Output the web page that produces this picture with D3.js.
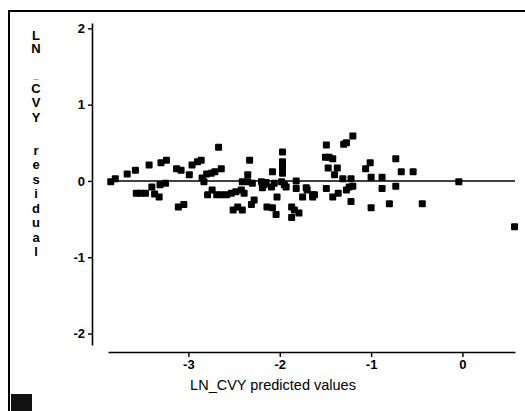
<!DOCTYPE html>
<html>
<head>
<meta charset="utf-8">
<script src="https://cdn.jsdelivr.net/npm/d3@7"></script>
<style>
  html, body { margin: 0; padding: 0; background: #fff; }
  svg { display: block; }
</style>
</head>
<body>
<svg id="chart"></svg>
<script>
// predicted values (x) and residuals (y)
const predicted = [
  -3.85, -3.80, -3.67, -3.58, -3.43, -3.30, -3.24, -3.57, -3.52, -3.47,
  -3.40, -3.37, -3.32, -3.31, -3.25, -3.13, -3.08, -3.11, -3.05, -2.99,
  -2.96, -2.90, -2.86, -2.85, -2.80, -2.75, -2.71, -2.64, -2.83, -2.67,
  -2.79, -2.74, -2.69, -2.64, -2.58, -2.53, -2.48, -2.42, -2.39, -2.51,
  -2.46, -2.41, -2.33, -2.35, -2.41, -2.35, -2.30, -2.31, -2.28, -2.20,
  -2.17, -2.19, -2.09, -2.08, -2.15, -2.06, -2.14, -2.08, -2.04, -1.97,
  -1.97, -1.97, -1.97, -2.03, -1.98, -1.95, -1.93, -1.87, -1.84, -1.79,
  -1.87, -1.82, -1.82, -1.75, -1.71, -1.70, -1.64, -1.62, -1.64, -1.49,
  -1.50, -1.46, -1.42, -1.47, -1.37, -1.40, -1.30, -1.27, -1.20, -1.31,
  -1.22, -1.49, -1.42, -1.36, -1.27, -1.24, -1.20, -1.22, -1.01, -1.06,
  -1.00, -0.88, -0.88, -1.00, -0.80, -0.73, -0.67, -0.73, -0.54, -0.44,
  -0.04, 0.57
];
const residual = [
  -0.01, 0.03, 0.09, 0.14, 0.21, 0.24, 0.27, -0.16, -0.16, -0.16,
  -0.08, -0.17, -0.21, -0.05, -0.03, 0.16, 0.14, -0.34, -0.31, 0.08,
  0.21, 0.25, 0.27, 0.04, 0.09, 0.10, 0.12, 0.16, -0.01, 0.44,
  -0.18, -0.12, -0.18, -0.18, -0.18, -0.16, -0.14, -0.12, -0.16, -0.38,
  -0.34, -0.38, 0.27, 0.08, -0.01, -0.01, -0.03, -0.31, -0.25, -0.01,
  -0.05, -0.09, -0.08, 0.12, -0.02, -0.03, -0.34, -0.35, -0.44, 0.38,
  0.25, 0.18, 0.10, -0.21, -0.01, -0.05, -0.08, -0.34, -0.38, -0.42,
  -0.48, 0.00, -0.10, -0.21, -0.09, -0.12, -0.18, -0.18, -0.21, 0.47,
  0.31, 0.31, 0.29, 0.17, 0.17, 0.08, 0.48, 0.50, 0.59, 0.03,
  0.03, -0.10, -0.21, -0.16, -0.12, -0.08, -0.07, -0.27, 0.24, 0.16,
  0.05, 0.05, -0.10, -0.35, -0.30, 0.29, 0.12, -0.07, 0.12, -0.30,
  -0.01, -0.60
];
const xTicks = [-3, -2, -1, 0];
const yTicks = [-2, -1, 0, 1, 2];
const xTitle = "LN_CVY predicted values";
const yTitle = "LN_CVY residual";

const points = predicted.map((x, i) => ({ x: x, y: residual[i] }));

const W = 525, H = 411;
const svg = d3.select("#chart").attr("width", W).attr("height", H);
const font = "'Liberation Sans', Arial, sans-serif";

// scales
const x = d3.scaleLinear().domain([-3.88, 0.575]).range([108, 515]);
const y = d3.scaleLinear().domain([-2.15, 2.07]).range([345, 23]);

// outer frame (left and top edges only) + black square bottom left
svg.append("path")
  .attr("d", `M9,411 V11 H${W}`)
  .attr("fill", "none")
  .attr("stroke", "#000")
  .attr("stroke-width", 2);
svg.append("rect")
  .attr("x", 11).attr("y", 394).attr("width", 21).attr("height", 17)
  .attr("fill", "#111");

// y axis
const yAxis = svg.append("g")
  .attr("transform", "translate(92,0)")
  .call(d3.axisLeft(y).tickValues(yTicks).tickSize(4).tickSizeOuter(0).tickPadding(3)
    .tickFormat(d => String(d)));
yAxis.select(".domain").attr("stroke-width", 1.6);
yAxis.selectAll(".tick line").attr("stroke-width", 1.4);
yAxis.selectAll("text")
  .style("font-family", font).style("font-size", "13px").style("font-weight", "bold")
  .attr("fill", "#000");

// x axis
const xAxis = svg.append("g")
  .attr("transform", "translate(0,352)")
  .call(d3.axisBottom(x).tickValues(xTicks).tickSize(5).tickSizeOuter(0).tickPadding(3)
    .tickFormat(d => String(d)));
xAxis.select(".domain").attr("stroke-width", 1.6);
xAxis.selectAll(".tick line").attr("stroke-width", 1.4);
xAxis.selectAll("text")
  .style("font-family", font).style("font-size", "13px").style("font-weight", "bold")
  .attr("fill", "#000");

// zero reference line
svg.append("line")
  .attr("x1", x.range()[0]).attr("x2", x.range()[1])
  .attr("y1", y(0)).attr("y2", y(0))
  .attr("stroke", "#000")
  .attr("stroke-width", 1.6);

// points
const s = 7;
svg.append("g")
  .selectAll("rect")
  .data(points)
  .enter()
  .append("rect")
  .attr("x", d => x(d.x) - s / 2)
  .attr("y", d => y(d.y) - s / 2)
  .attr("width", s)
  .attr("height", s)
  .attr("rx", 1)
  .attr("fill", "#000");

// x title
svg.append("text")
  .attr("x", 273)
  .attr("y", 390)
  .attr("text-anchor", "middle")
  .style("font-family", font)
  .style("font-size", "14.5px")
  .attr("fill", "#000")
  .text(xTitle);

// y title, stacked one letter per line in a single text element
const yt = svg.append("text")
  .style("font-family", font)
  .style("font-size", "13px")
  .style("font-weight", "bold")
  .attr("text-anchor", "middle")
  .attr("fill", "#000");
let base = 39.5;
yTitle.split("").forEach((ch, i) => {
  if (ch === " ") { base += 18.5; return; }
  if (ch === "_") {
    // small underscore squeezed in above the next letter
    yt.append("tspan").attr("x", 36).attr("y", base + 11)
      .style("font-size", "9px").text(ch);
    base += 25;
    return;
  }
  yt.append("tspan").attr("x", 36).attr("y", base).text(ch);
  base += i === 0 ? 13.5 : 14.5;
});
</script>
</body>
</html>
